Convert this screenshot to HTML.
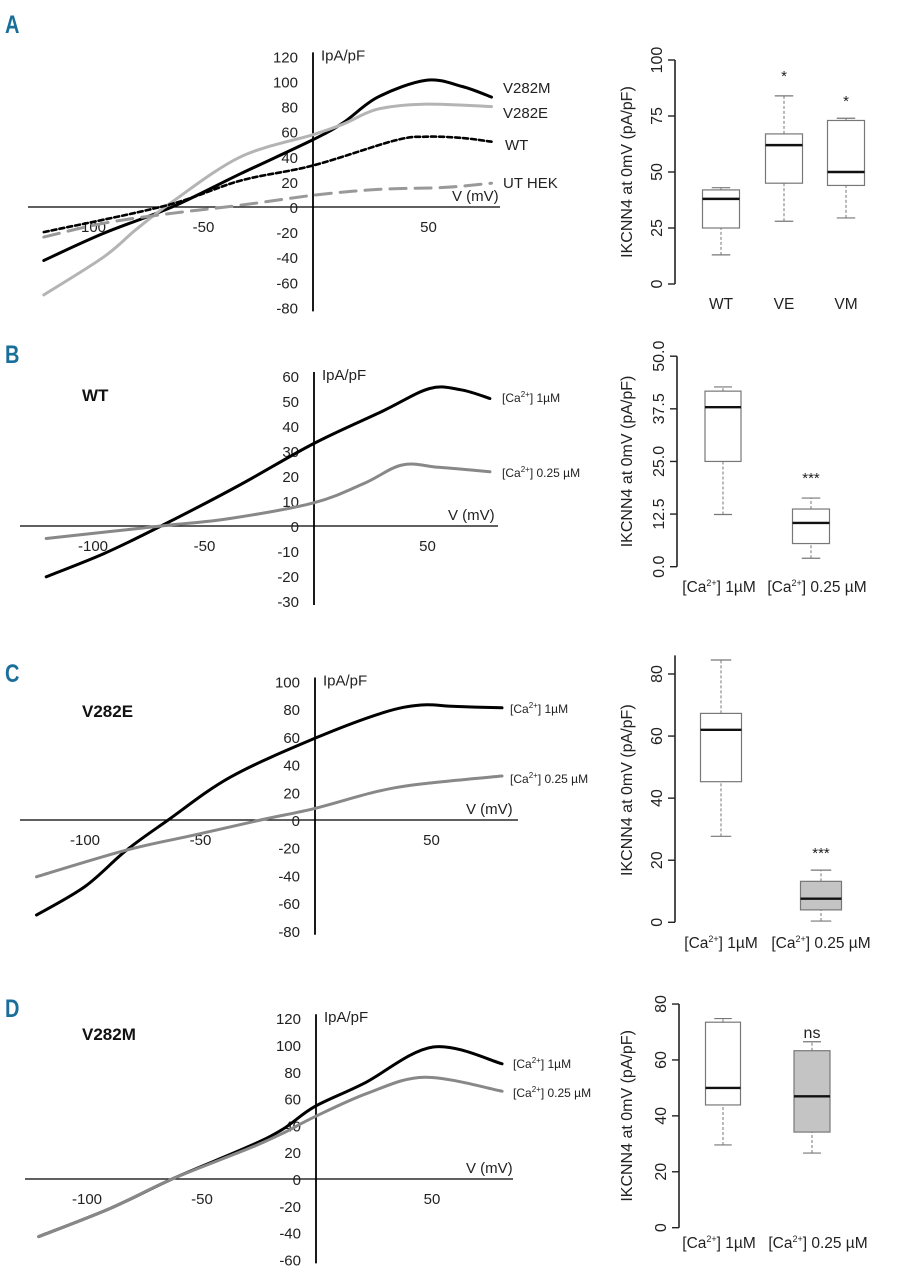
<!DOCTYPE html>
<html><head><meta charset="utf-8">
<style>
html,body{margin:0;padding:0;background:#fff;}
svg{display:block;font-family:"Liberation Sans",sans-serif;}
</style></head>
<body>
<svg id="fig" width="901" height="1280" viewBox="0 0 901 1280" xmlns="http://www.w3.org/2000/svg"></svg>
<script>
// ---- Panel A IV curves (V in mV, I in pA/pF) ----
const aV282M_v=[-121,-94.5,-64,-33.5,-1.5,12,27.5,49,65,78];
const aV282M_i=[-42.6,-21,0,26.5,53.5,67,87.6,101,96,87.6];
const aV282E_v=[-121,-94.5,-80,-64,-33.5,-1.5,12,27.5,49,78];
const aV282E_i=[-70,-40,-18,4,40,57.5,66,78,82,80];
const aWT_v=[-121,-67,-33.5,-1.5,35,49,65,78];
const aWT_i=[-20,1,21,33,53,56,55,52];
const aUT_v=[-121,-94.5,-64,-33.5,-1.5,27.5,57,78];
const aUT_i=[-24,-13,-5,1.4,9.3,14,15.6,19];
const aYTicks=[120,100,80,60,40,20,0,-20,-40,-60,-80];
const xTicks=[-100,-50,50];
// ---- Panel B ----
const b1_v=[-121,-95,-69.5,-35,-1,30,51,65,78];
const b1_i=[-20.3,-11,0,16,33,46,55,54.5,51];
const b2_v=[-121,-69.5,-38.6,-1,21.5,38.6,55,78];
const b2_i=[-5,0,3,9.3,17,24.4,23.5,21.7];
const bYTicks=[60,50,40,30,20,10,0,-10,-20,-30];
// ---- Panel C ----
const c1_v=[-121,-100,-82,-64,-37,-0.5,29,45.5,60,80.5];
const c1_i=[-68.6,-48,-21.7,0,31,59,77.5,83,82,81];
const c2_v=[-121,-82,-53,-24,-0.5,26,45.5,80.5];
const c2_i=[-41,-21.7,-11,0,8.4,20.4,26,31.8];
const cYTicks=[100,80,60,40,20,0,-20,-40,-60,-80];
// ---- Panel D ----
const d1_v=[-121,-90,-63,-30,-15,-1,20.5,50.5,80.5];
const d1_i=[-43,-22,0,24,37,54,71.4,98.5,86];
const d2_v=[-121,-90,-63,-30,-15,-1,22,47,80.5];
const d2_i=[-43,-22,0,22.5,34,46.4,64,76,65.5];
const dYTicks=[120,100,80,60,40,20,0,-20,-40,-60];
// ---- Box plots: [low, q1, median, q3, high] ----
const boxA_WT=[13,25,38,42,43];
const boxA_VE=[28,45,62,67,84];
const boxA_VM=[29.5,44,50,73,74];
const boxA_ticks=[0,25,50,75,100];
const boxB_1=[12.4,25,37.9,41.7,42.7];
const boxB_025=[2,5.5,10.4,13.7,16.3];
const boxB_ticks=["0.0","12.5","25.0","37.5","50.0"];
const boxC_1=[27.7,45.3,62,67.3,84.5];
const boxC_025=[0.4,4,7.6,13.2,16.8];
const boxC_ticks=[0,20,40,60,80];
const boxD_1=[29.6,43.9,50,73.5,74.8];
const boxD_025=[26.7,34.2,47,63.3,66.5];
const boxD_ticks=[0,20,40,60,80];

const svg=document.getElementById('fig');
const NS='http://www.w3.org/2000/svg';
function mk(tag,attrs,txt){
  const el=document.createElementNS(NS,tag);
  for(const k in attrs) el.setAttribute(k,attrs[k]);
  if(txt!==undefined) el.textContent=txt;
  svg.appendChild(el);
  return el;
}
function smoothPath(pts){
  let d='M'+pts[0][0].toFixed(1)+','+pts[0][1].toFixed(1);
  for(let i=0;i<pts.length-1;i++){
    const p0=pts[i-1]||pts[i],p1=pts[i],p2=pts[i+1],p3=pts[i+2]||p2;
    const c1x=p1[0]+(p2[0]-p0[0])/6,c1y=p1[1]+(p2[1]-p0[1])/6;
    const c2x=p2[0]-(p3[0]-p1[0])/6,c2y=p2[1]-(p3[1]-p1[1])/6;
    d+=' C'+c1x.toFixed(1)+','+c1y.toFixed(1)+' '+c2x.toFixed(1)+','+c2y.toFixed(1)+' '+p2[0].toFixed(1)+','+p2[1].toFixed(1);
  }
  return d;
}
function letter(t,x,y){
  const el=mk('text',{x:x,y:y,'font-size':25,'font-weight':'bold','fill':'#1a6e9a','font-family':'"Liberation Sans Narrow","Liberation Sans",sans-serif','transform':'scale(0.8,1)','transform-origin':x+'px '+y+'px'},t);
  
  
}
function ivPlot(p){
  const X=v=>p.x0+p.kx*v, Y=i=>p.y0-p.ky*i;
  let el=mk('line',{x1:p.xa1,x2:p.xa2,y1:Y(0),y2:Y(0),stroke:'#000','stroke-width':1.3});
  
  
  const yt=p.yTicks;
  el=mk('line',{x1:p.ax,x2:p.ax,y1:Y(yt[0])-4,y2:Y(yt[yt.length-1])+4,stroke:'#000','stroke-width':1.8});
  
  
  yt.forEach(t=>{
    el=mk('text',{x:p.ax-15,y:Y(t)+6,'text-anchor':'end','font-size':15,fill:'#222'},String(t));
    
    
  });
  xTicks.forEach(t=>{
    el=mk('text',{x:X(t),y:Y(0)+25,'text-anchor':'middle','font-size':15,fill:'#222'},String(t));
    
    
  });
  el=mk('text',{x:p.ax+8,y:Y(yt[0])+4,'font-size':15,fill:'#222'},'IpA/pF');
  
  
  el=mk('text',{x:p.vx,y:Y(0)-6,'font-size':15,fill:'#222'},'V (mV)');
  
  
  p.series.forEach(s=>{
    const pts=s.v.map((v,k)=>[X(v),Y(s.i[k])]);
    const a={d:smoothPath(pts),fill:'none',stroke:s.color,'stroke-width':s.w||3,'stroke-linecap':'round'};
    if(s.dash) a['stroke-dasharray']=s.dash;
    el=mk('path',a);
    
    
    const lab=mk('text',{x:s.lx,y:s.ly,'font-size':s.lfs||15,fill:'#222'});
    if(s.ca){
      lab.innerHTML='[Ca<tspan font-size="8" dy="-5">2+</tspan><tspan dy="5">] '+s.ca+'</tspan>';
    } else lab.textContent=s.label;
    
    
  });
  if(p.title){
    el=mk('text',{x:82,y:p.ty,'font-size':17,'font-weight':'bold',fill:'#111'},p.title);
    
    
  }
}
function boxPlot(p){
  const Y=v=>p.y0-p.k*v;
  const tv=p.ticks.map(Number);
  let el=mk('line',{x1:p.ax,x2:p.ax,y1:Y(tv[0]),y2:Y(p.top!==undefined?p.top:tv[tv.length-1]),stroke:'#222','stroke-width':1.6});
  
  
  p.ticks.forEach(t=>{
    const y=Y(Number(t));
    el=mk('line',{x1:p.ax-7,x2:p.ax,y1:y,y2:y,stroke:'#222','stroke-width':1.4});
    
    
    el=mk('text',{x:p.ax-13,y:y,'text-anchor':'middle','font-size':16,fill:'#222',transform:'rotate(-90 '+(p.ax-13)+' '+y+')'},String(t));
    
    
  });
  const my=(Y(tv[0])+Y(tv[tv.length-1]))/2+p.tOff;
  el=mk('text',{x:632,y:my,'text-anchor':'middle','font-size':16,fill:'#222',transform:'rotate(-90 632 '+my+')'},'IKCNN4 at 0mV (pA/pF)');
  
  
  p.boxes.forEach(b=>{
    const s=b.s,cx=b.cx,hw=b.w/2;
    el=mk('line',{x1:cx,x2:cx,y1:Y(s[0]),y2:Y(s[1]),stroke:'#777','stroke-width':1,'stroke-dasharray':'3,2'});
    
    
    el=mk('line',{x1:cx,x2:cx,y1:Y(s[3]),y2:Y(s[4]),stroke:'#777','stroke-width':1,'stroke-dasharray':'3,2'});
    
    
    [s[0],s[4]].forEach(v=>{
      el=mk('line',{x1:cx-hw/2,x2:cx+hw/2,y1:Y(v),y2:Y(v),stroke:'#777','stroke-width':1.2});
      
      
    });
    el=mk('rect',{x:cx-hw,y:Y(s[3]),width:b.w,height:Y(s[1])-Y(s[3]),fill:b.fill||'#fff',stroke:'#777','stroke-width':1.2});
    
    
    el=mk('line',{x1:cx-hw,x2:cx+hw,y1:Y(s[2]),y2:Y(s[2]),stroke:'#111','stroke-width':2.4});
    
    
    const lab=mk('text',{x:cx+(b.lo||0),y:p.ly,'text-anchor':'middle','font-size':15.5,fill:'#222'});
    if(b.ca) lab.innerHTML='[Ca<tspan font-size="9" dy="-6">2+</tspan><tspan dy="6">] '+b.ca+'</tspan>';
    else lab.textContent=b.label;
    
    
    if(b.sig){
      el=mk('text',{x:cx,y:b.sigY!==undefined?b.sigY:Y(s[4])-12,'text-anchor':'middle','font-size':b.sig==='ns'?16:15,fill:'#222'},b.sig);
      
      
    }
  });
}

letter('A',5,33);letter('B',5,363);letter('C',5,682);letter('D',5,1017);

ivPlot({id:'panel-a-iv',x0:316,kx:2.25,y0:207,ky:1.255,ax:313,xa1:28,xa2:500,vx:452,yTicks:aYTicks,series:[
 {name:'v282m-curve',v:aV282M_v,i:aV282M_i,color:'#000',label:'V282M',lx:503,ly:93},
 {name:'v282e-curve',v:aV282E_v,i:aV282E_i,color:'#b4b4b4',label:'V282E',lx:503,ly:118},
 {name:'wt-curve',v:aWT_v,i:aWT_i,color:'#000',w:2.6,dash:'5,3',label:'WT',lx:505,ly:150},
 {name:'ut-hek-curve',v:aUT_v,i:aUT_i,color:'#999',dash:'16,9',label:'UT HEK',lx:503,ly:188}]});

ivPlot({id:'panel-b-iv',x0:316,kx:2.23,y0:526,ky:2.5,ax:314,xa1:20,xa2:498,vx:448,yTicks:bYTicks,title:'WT',ty:401,series:[
 {name:'b-ca-1um-curve',v:b1_v,i:b1_i,color:'#000',ca:'1µM',lx:502,ly:402,lfs:12},
 {name:'b-ca-025um-curve',v:b2_v,i:b2_i,color:'#888',ca:'0.25 µM',lx:502,ly:477,lfs:12}]});

ivPlot({id:'panel-c-iv',x0:316,kx:2.31,y0:820,ky:1.385,ax:315,xa1:20,xa2:518,vx:466,yTicks:cYTicks,title:'V282E',ty:717,series:[
 {name:'c-ca-1um-curve',v:c1_v,i:c1_i,color:'#000',ca:'1µM',lx:510,ly:713,lfs:12},
 {name:'c-ca-025um-curve',v:c2_v,i:c2_i,color:'#888',ca:'0.25 µM',lx:510,ly:783,lfs:12}]});

ivPlot({id:'panel-d-iv',x0:317,kx:2.3,y0:1179,ky:1.34,ax:316,xa1:25,xa2:513,vx:466,yTicks:dYTicks,title:'V282M',ty:1040,series:[
 {name:'d-ca-1um-curve',v:d1_v,i:d1_i,color:'#000',ca:'1µM',lx:513,ly:1068,lfs:12},
 {name:'d-ca-025um-curve',v:d2_v,i:d2_i,color:'#888',ca:'0.25 µM',lx:513,ly:1097,lfs:12}]});

boxPlot({id:'panel-a-box',ax:675,y0:284,k:2.24,ticks:boxA_ticks,tOff:0,ly:309,boxes:[
 {name:'box-a-wt',s:boxA_WT,cx:721,w:37,label:'WT'},
 {name:'box-a-ve',s:boxA_VE,cx:784,w:37,label:'VE',sig:'*',sigY:81},
 {name:'box-a-vm',s:boxA_VM,cx:846,w:37,label:'VM',sig:'*',sigY:106}]});

boxPlot({id:'panel-b-box',ax:677,y0:566.7,k:4.21,ticks:boxB_ticks,tOff:0,ly:592,boxes:[
 {name:'box-b-ca-1um',s:boxB_1,cx:723,w:36,ca:'1µM',lo:-4},
 {name:'box-b-ca-025um',s:boxB_025,cx:811,w:37,ca:'0.25 µM',lo:6,sig:'***',sigY:483}]});

boxPlot({id:'panel-c-box',ax:675,y0:922.3,k:3.104,ticks:boxC_ticks,top:86,tOff:-8,ly:948,boxes:[
 {name:'box-c-ca-1um',s:boxC_1,cx:721,w:41,ca:'1µM'},
 {name:'box-c-ca-025um',s:boxC_025,cx:821,w:41,ca:'0.25 µM',fill:'#c4c4c4',sig:'***',sigY:858}]});

boxPlot({id:'panel-d-box',ax:679,y0:1227.7,k:2.796,ticks:boxD_ticks,tOff:0,ly:1248,boxes:[
 {name:'box-d-ca-1um',s:boxD_1,cx:723,w:35,ca:'1µM',lo:-4},
 {name:'box-d-ca-025um',s:boxD_025,cx:812,w:36,ca:'0.25 µM',lo:6,fill:'#c4c4c4',sig:'ns',sigY:1038}]});
</script>
</body></html>
